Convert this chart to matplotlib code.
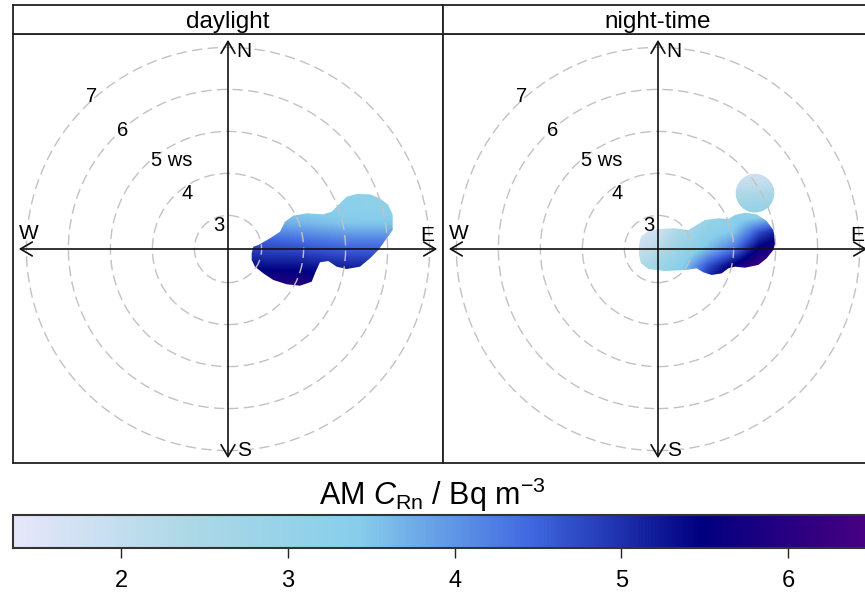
import numpy as np
import matplotlib
matplotlib.use('Agg')
import matplotlib.pyplot as plt
from matplotlib.colors import LinearSegmentedColormap, Normalize
from matplotlib.patches import Circle, Polygon

plt.rcParams['font.family'] = ['Liberation Sans', 'DejaVu Sans']
plt.rcParams['mathtext.fontset'] = 'custom'
plt.rcParams['mathtext.rm'] = 'Liberation Sans'
plt.rcParams['mathtext.it'] = 'Liberation Sans:italic'

# ---- data ----
panels = ['daylight', 'night-time']

ring_ws = [3, 4, 5, 6, 7]
centre_ws = 2.2          # ws at the middle of the polar plot
ring_label_text = ['3', '4', '5 ws', '6', '7']
ring_label_x = [-0.21, -0.98, -1.33, -2.50, -3.26]
ring_label_y = [0.57, 1.33, 2.10, 2.83, 3.62]

key_colours = ['lavender', 'lightblue', 'skyblue', 'royalblue', 'navy', 'indigo']
key_min, key_max = 1.35, 6.51
key_ticks = [2, 3, 4, 5, 6]

# daylight surface (x/y in plot ws units, values in Bq m-3)
day_x = [0.4, 1.0, 1.6, 2.2, 2.8, 3.4, 4.0]
day_y = [-1.0, -0.6, -0.2, 0.2, 0.6, 1.0, 1.4]
day_conc = [
    [6.2, 6.2, 6.2, 6.1, 6.0, 6.0, 6.0],
    [5.6, 5.6, 5.6, 5.5, 5.4, 5.4, 5.4],
    [5.1, 5.0, 5.0, 4.9, 4.8, 4.8, 4.8],
    [4.6, 4.5, 4.4, 4.3, 4.2, 4.2, 4.2],
    [3.9, 3.8, 3.7, 3.6, 3.5, 3.5, 3.5],
    [3.3, 3.3, 3.3, 3.3, 3.3, 3.2, 3.2],
    [3.2, 3.2, 3.2, 3.2, 3.2, 3.2, 3.2],
]
# outline of the daylight blob
day_outline_x = [0.564, 0.602, 0.721, 1.000, 1.238, 1.357, 1.555, 1.874, 2.269, 2.469,
                 2.667, 2.826, 3.064, 3.381, 3.619, 3.817, 3.921, 3.921, 3.779, 3.579,
                 3.381, 3.143, 2.826, 2.588, 2.388, 2.190, 2.071, 1.993, 1.714, 1.398,
                 1.079, 0.840, 0.643, 0.564]
day_outline_y = [-0.102, 0.055, 0.095, 0.255, 0.412, 0.650, 0.793, 0.850, 0.826, 0.888,
                 1.088, 1.245, 1.310, 1.302, 1.207, 1.048, 0.810, 0.452, 0.255, -0.024,
                 -0.221, -0.421, -0.476, -0.421, -0.286, -0.317, -0.579, -0.779, -0.874, -0.840,
                 -0.738, -0.579, -0.421, -0.262]
day_spot_x, day_spot_y, day_spot_r = [], [], []

# night-time surface
night_x = [-0.6, 0.0, 0.6, 1.2, 1.8, 2.4, 3.0]
night_y = [-0.8, -0.4, 0.0, 0.4, 0.8, 1.2, 1.6, 2.0]
night_conc = [
    [2.5, 3.0, 3.9, 5.3, 6.1, 6.4, 6.4],
    [2.2, 2.7, 3.4, 4.7, 5.6, 6.3, 6.4],
    [1.8, 2.2, 3.0, 3.6, 4.3, 5.6, 6.0],
    [1.6, 1.8, 2.6, 3.2, 3.5, 4.7, 5.4],
    [1.5, 1.6, 2.1, 2.9, 3.2, 3.2, 3.6],
    [1.5, 1.5, 1.7, 2.2, 2.5, 2.6, 2.7],
    [1.5, 1.5, 1.6, 1.8, 1.9, 1.9, 2.1],
    [1.5, 1.5, 1.5, 1.6, 1.7, 1.7, 1.8],
]
night_outline_x = [-0.452, -0.405, -0.231, 0.007, 0.405, 0.721, 0.921, 1.119, 1.436, 1.674,
                   1.833, 2.071, 2.350, 2.588, 2.745, 2.802, 2.745, 2.588, 2.388, 2.071,
                   1.833, 1.674, 1.517, 1.279, 1.079, 0.921, 0.643, 0.167, -0.231, -0.405,
                   -0.452]
night_outline_y = [0.095, 0.293, 0.429, 0.476, 0.493, 0.452, 0.571, 0.690, 0.731, 0.714,
                   0.810, 0.864, 0.826, 0.667, 0.452, 0.174, -0.024, -0.221, -0.381, -0.445,
                   -0.421, -0.460, -0.579, -0.619, -0.555, -0.460, -0.500, -0.524, -0.476, -0.340,
                   -0.143]
# separate round patch north of the main night-time blob
night_spot_x, night_spot_y, night_spot_r = [2.31], [1.33], [0.46]

surfaces = [
    (day_x, day_y, day_conc, day_outline_x, day_outline_y, day_spot_x, day_spot_y, day_spot_r),
    (night_x, night_y, night_conc, night_outline_x, night_outline_y,
     night_spot_x, night_spot_y, night_spot_r),
]

# ---- figure ----
W, H = 865, 596
fig = plt.figure(figsize=(W / 100, H / 100), dpi=100)
fig.patch.set_facecolor('white')

def px_axes(x0, y0, x1, y1):
    return fig.add_axes([x0 / W, 1 - y1 / H, (x1 - x0) / W, (y1 - y0) / H])

cmap = LinearSegmentedColormap.from_list('crn', key_colours)
norm = Normalize(key_min, key_max)
scale = 42.0  # pixels per ws unit
arrow_len = 4.98

for i, name in enumerate(panels):
    x0 = 13 + 430 * i
    ax = px_axes(x0, 34, x0 + 430, 463)
    ax.set_xticks([])
    ax.set_yticks([])
    for s in ax.spines.values():
        s.set_linewidth(1.3)
        s.set_color('#222222')

    gx, gy, gz, ox, oy, sx, sy, sr = surfaces[i]
    gx = np.array(gx)
    gy = np.array(gy)
    dx = gx[1] - gx[0]
    dy = gy[1] - gy[0]
    ext = [gx[0] - dx / 2, gx[-1] + dx / 2, gy[0] - dy / 2, gy[-1] + dy / 2]
    clips = [Polygon(np.column_stack([ox, oy]), closed=True, transform=ax.transData)]
    for cx, cy, r in zip(sx, sy, sr):
        clips.append(Circle((cx, cy), r, transform=ax.transData))
    for clip in clips:
        im = ax.imshow(np.array(gz), origin='lower', extent=ext, cmap=cmap, norm=norm,
                       interpolation='bilinear', aspect='auto', zorder=1)
        im.set_clip_path(clip)
    ax.set_xlim(-215 / scale, 215 / scale)
    ax.set_ylim(-214 / scale, 215 / scale)

    # dashed rings
    for w in ring_ws:
        ax.add_patch(Circle((0, 0), w - centre_ws, fill=False, ec='#c2c2c2',
                            lw=1.0, ls=(0, (7.5, 3.8)), zorder=2))
    for t, lx, ly in zip(ring_label_text, ring_label_x, ring_label_y):
        ax.text(lx, ly, t, ha='center', va='center', fontsize=14.5, zorder=4)

    # compass arrows
    head = 'head_length=0.85,head_width=0.5'
    ax.annotate('', xy=(arrow_len, 0), xytext=(-arrow_len, 0),
                arrowprops=dict(arrowstyle='<->,' + head, lw=1.2, color='#111111',
                                shrinkA=0, shrinkB=0), zorder=3)
    ax.annotate('', xy=(0, arrow_len), xytext=(0, -arrow_len),
                arrowprops=dict(arrowstyle='<->,' + head, lw=1.2, color='#111111',
                                shrinkA=0, shrinkB=0), zorder=3)
    ax.text(0.37, 4.70, 'N', ha='center', va='center', fontsize=15, zorder=4)
    ax.text(0.38, -4.79, 'S', ha='center', va='center', fontsize=15, zorder=4)
    ax.text(-4.74, 0.36, 'W', ha='center', va='center', fontsize=15, zorder=4)
    ax.text(4.74, 0.33, 'E', ha='center', va='center', fontsize=15, zorder=4)

    # strip
    st = px_axes(x0, 5, x0 + 430, 34)
    st.set_xticks([])
    st.set_yticks([])
    for s in st.spines.values():
        s.set_linewidth(1.3)
        s.set_color('#222222')
    st.text(0.5, 0.42, name, ha='center', va='center', fontsize=17.5,
            transform=st.transAxes)

# ---- colour key ----
cax = px_axes(13, 515, 873, 548)
sm = plt.cm.ScalarMappable(norm=norm, cmap=cmap)
cb = fig.colorbar(sm, cax=cax, orientation='horizontal')
cb.set_ticks(key_ticks)
cb.ax.tick_params(length=7, width=1.0, pad=9, labelsize=17, color='#222222')
cb.outline.set_linewidth(1.5)
cb.outline.set_edgecolor('#333333')
fig.text(432 / W, 1 - 505 / H, r'AM $C_{\mathrm{Rn}}$ / Bq m$^{-3}$',
         ha='center', va='baseline', fontsize=22)

fig.savefig('out.png', dpi=100)
